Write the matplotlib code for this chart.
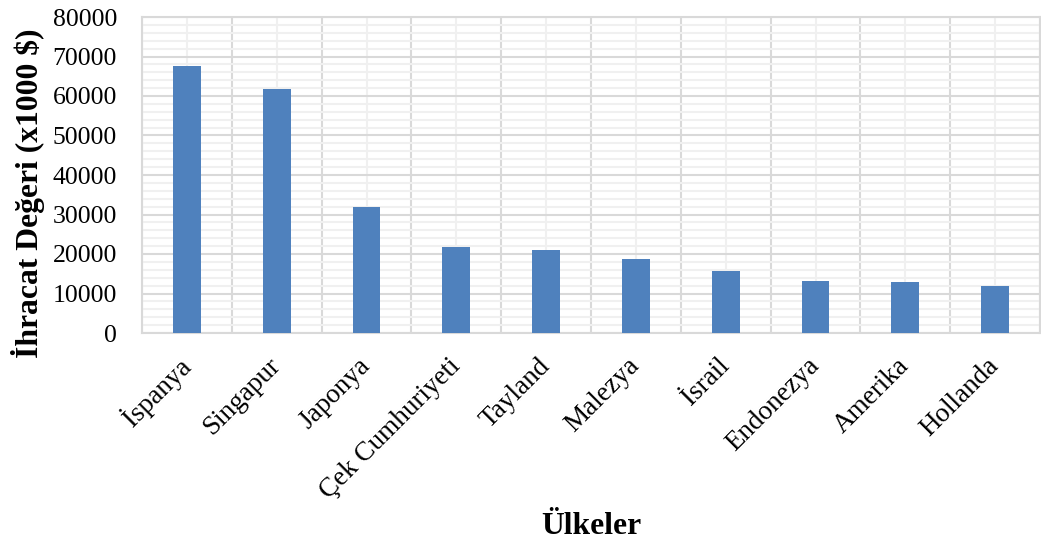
import numpy as np
import matplotlib.pyplot as plt

ulkeler = ['İspanya', 'Singapur', 'Japonya', 'Çek Cumhuriyeti', 'Tayland',
           'Malezya', 'İsrail', 'Endonezya', 'Amerika', 'Hollanda']
ihracat = [67700, 61700, 31900, 21700, 21000, 18700, 15800, 13200, 13000, 12000]

plt.rcParams['font.family'] = ['Liberation Serif', 'DejaVu Serif']

fig = plt.figure(figsize=(10.41, 5.5), dpi=100)
ax = fig.add_axes([142/1041, 1-333/550, (1040-142)/1041, 316/550])

x = np.arange(len(ulkeler))
ax.bar(x, ihracat, width=0.31, color='#4F81BD', zorder=3)

ax.set_xlim(-0.5, len(ulkeler)-0.5)
ax.set_ylim(0, 80000)
ax.set_yticks(np.arange(0, 80001, 10000))
ax.set_yticks(np.arange(0, 80001, 2000), minor=True)
ax.set_xticks(x)
ax.set_xticks(np.arange(-0.5, len(ulkeler), 1), minor=True)
ax.set_xticklabels(ulkeler, rotation=45, ha='right', va='center',
                   rotation_mode='anchor', fontsize=19.5)
for t in ax.get_yticklabels():
    t.set_fontsize(18.5)

ax.tick_params(which='both', length=0)
ax.tick_params(axis='x', pad=21)
ax.tick_params(axis='y', pad=18)

# grid: darker at majors / category borders, lighter at minors / centres
ax.grid(axis='y', which='major', color='#d9d9d9', lw=1.5, zorder=1)
ax.grid(axis='y', which='minor', color='#f0f0f0', lw=1.5, zorder=0)
ax.grid(axis='x', which='minor', color='#d9d9d9', lw=1.5, zorder=1)
ax.grid(axis='x', which='major', color='#f0f0f0', lw=1.5, zorder=0)
for s in ax.spines.values():
    s.set_color('#d9d9d9')
    s.set_linewidth(1.5)

fig.text(28/1041, 1-193/550, 'İhracat Değeri (x1000 $)', fontsize=22.8,
         fontweight='bold', rotation=90, ha='center', va='center')
fig.text(591/1041, 1-527/550, 'Ülkeler', fontsize=22.8, fontweight='bold',
         ha='center', va='center')

fig.savefig('out.png', dpi=100)
